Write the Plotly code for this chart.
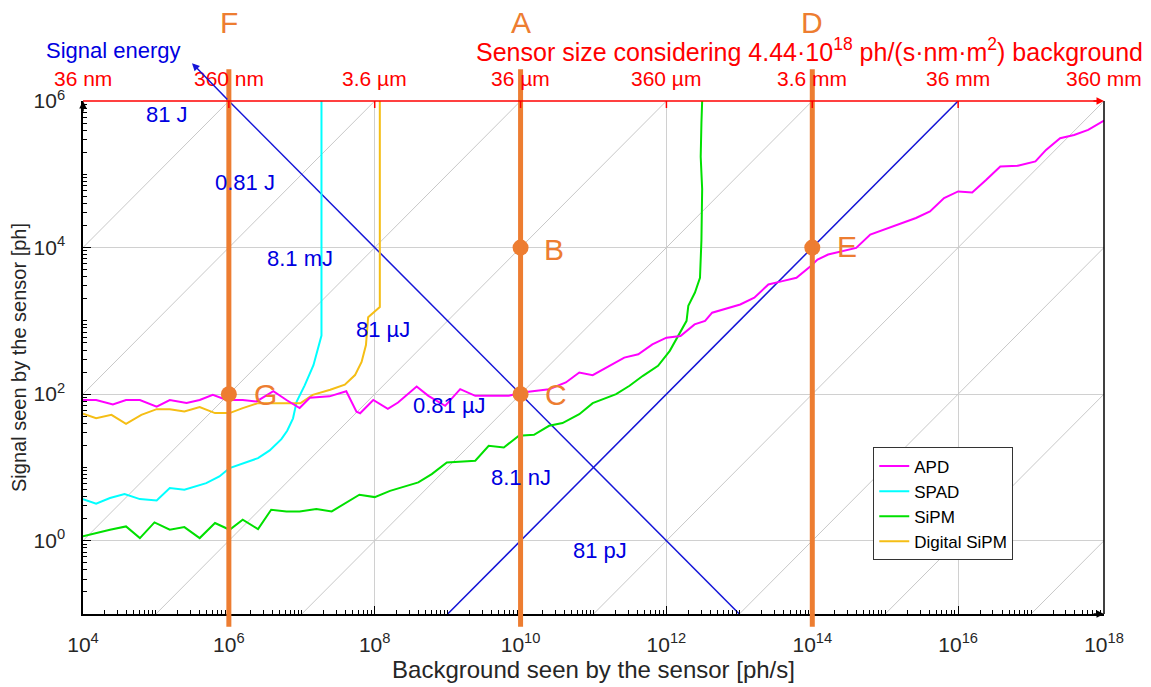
import plotly.graph_objects as go

# ---------------- data (log10 values) ----------------
apd_lx = [4.0, 4.18, 4.41, 4.59, 4.78, 5.01, 5.19, 5.42, 5.6, 5.78, 5.97, 6.19, 6.38, 6.61, 6.79, 6.97,
          7.11, 7.38, 7.61, 7.75, 7.8, 7.98, 8.18, 8.32, 8.575, 8.736, 8.966, 9.172, 9.379, 9.609, 9.839,
          10.023, 10.207, 10.391, 10.621, 10.805, 10.989, 11.218, 11.422, 11.614, 11.807, 12.0, 12.193,
          12.386, 12.53, 12.627, 12.867, 13.012, 13.205, 13.398, 13.59, 13.783, 13.976, 14.072, 14.217,
          14.41, 14.602, 14.795, 14.988, 15.229, 15.422, 15.614, 15.807, 16.0, 16.193, 16.386, 16.578,
          16.819, 17.06, 17.205, 17.398, 17.59, 17.783, 18.0]
apd_ly = [1.92, 1.92, 1.86, 1.92, 1.92, 1.83, 1.92, 1.88, 1.92, 1.99, 1.92, 1.92, 1.9, 2.04, 1.92, 1.81,
          1.95, 1.97, 2.04, 1.76, 1.74, 1.92, 1.80, 1.886, 2.105, 1.977, 1.841, 2.068, 1.977, 1.977, 1.977,
          2.023, 2.045, 2.068, 2.159, 2.295, 2.259, 2.386, 2.499, 2.544, 2.68, 2.771, 2.794,
          2.952, 2.998, 3.111, 3.179, 3.224, 3.315, 3.497, 3.542, 3.587, 3.746, 3.837, 3.905,
          3.95, 3.995, 4.177, 4.245, 4.336, 4.404, 4.494, 4.676, 4.766, 4.753, 4.925, 5.107,
          5.116, 5.175, 5.333, 5.492, 5.537, 5.605, 5.732]

spad_lx = [4.0, 4.18, 4.37, 4.57, 4.78, 5.01, 5.19, 5.39, 5.69, 5.87, 6.01, 6.19, 6.4, 6.56, 6.72, 6.8,
           6.88, 6.93, 7.04, 7.16, 7.27, 7.27]
spad_ly = [0.568, 0.505, 0.582, 0.636, 0.568, 0.55, 0.718, 0.695, 0.786, 0.877, 0.991, 1.05, 1.127, 1.232,
           1.386, 1.5, 1.67, 1.90, 2.12, 2.395, 2.80, 6.0]

sipm_lx = [4.0, 4.18, 4.37, 4.59, 4.78, 4.98, 5.19, 5.39, 5.6, 5.81, 6.01, 6.19, 6.4, 6.58, 6.79, 6.97,
           7.2, 7.41, 7.61, 7.79, 8.0, 8.21, 8.598, 8.782, 8.989, 9.379, 9.563, 9.77, 9.977, 10.184,
           10.391, 10.575, 10.805, 10.989, 11.31, 11.494, 11.678, 11.885, 12.046, 12.184, 12.276, 12.3,
           12.391, 12.46, 12.48, 12.49, 12.47, 12.48, 12.49]
sipm_ly = [0.059, 0.105, 0.15, 0.195, 0.036, 0.25, 0.15, 0.186, 0.036, 0.241, 0.15, 0.286, 0.159, 0.423,
           0.4, 0.4, 0.432, 0.4, 0.514, 0.627, 0.595, 0.68, 0.795, 0.909, 1.068, 1.091, 1.295, 1.273, 1.432,
           1.445, 1.568, 1.605, 1.727, 1.877, 2.0, 2.114, 2.25, 2.386, 2.591, 2.841, 3.0, 3.205,
           3.386, 3.587, 4.1, 4.8, 5.24, 5.7, 6.0]

dsipm_lx = [4.0, 4.18, 4.39, 4.59, 4.8, 5.01, 5.19, 5.39, 5.6, 5.81, 6.01, 6.19, 6.4, 6.61, 6.79, 6.98,
            7.15, 7.39, 7.59, 7.73, 7.82, 7.88, 7.91, 8.07, 8.07]
dsipm_ly = [1.732, 1.673, 1.718, 1.595, 1.718, 1.795, 1.795, 1.764, 1.823, 1.741, 1.741, 1.809, 1.877,
            1.877, 1.868, 1.875, 1.99, 2.06, 2.13, 2.26, 2.44, 2.67, 3.05, 3.19, 6.0]

series_names = ["APD", "SPAD", "SiPM", "Digital SiPM"]
series_colors = ["#FF00FF", "#00FFFF", "#00E000", "#F5BE15"]
draw_order = [1, 2, 3, 0]  # APD drawn last (on top)

# axes ranges (log10)
X_RANGE = [4, 18]
Y_RANGE = [-1, 6]

# grey guide lines y = x * 10^k
diag_k = [0, -2, -4, -6, -8, -10, -12, -14, -16, -18]

# signal-energy lines (log10 y = a + s*log10 x) and their x extent
energy_lines = [(12, -1, 6, 13), (-10, 1, 9, 16)]
energy_labels = ["81 J", "0.81 J", "8.1 mJ", "81 µJ", "0.81 µJ", "8.1 nJ", "81 pJ"]
energy_lab_x = [5.152, 6.221, 6.975, 8.113, 9.032, 10.006, 11.089]
energy_lab_y = [5.81, 4.887, 3.856, 2.879, 1.848, 0.857, -0.133]

# top sensor size axis
size_vals = [4, 6, 8, 10, 12, 14, 16, 18]
size_labels = ["36 nm", "360 nm", "3.6 µm", "36 µm", "360 µm", "3.6 mm", "36 mm", "360 mm"]

# operating points
vline_x = [6, 10, 14]
vline_labels = ["F", "A", "D"]
point_x = [10, 10, 14, 6]
point_y = [4, 2, 4, 2]
point_labels = ["B", "C", "E", "G"]
point_lab_x = [10.458, 10.485, 14.48, 6.50]
point_lab_y = [3.98, 2.0, 4.018, 2.0]

x_major = [4, 6, 8, 10, 12, 14, 16, 18]
y_major = [0, 2, 4, 6]

# ---------------- figure ----------------
BLUE = "#1515D8"
ORANGE = "#ED7D31"
GRID = "#D0D0D0"
TXT = "#262626"
FONT = "Liberation Sans, Arial, sans-serif"

fig = go.Figure()

for k in diag_k:
    lx0 = max(X_RANGE[0], Y_RANGE[0] - k)
    lx1 = min(X_RANGE[1], Y_RANGE[1] - k)
    if lx1 > lx0:
        fig.add_trace(go.Scatter(x=[10 ** lx0, 10 ** lx1], y=[10 ** (lx0 + k), 10 ** (lx1 + k)],
                                 mode="lines", line=dict(color="#C8C8C8", width=1),
                                 showlegend=False, hoverinfo="skip"))

for a, s, xa, xb in energy_lines:
    fig.add_trace(go.Scatter(x=[10 ** xa, 10 ** xb], y=[10 ** (a + s * xa), 10 ** (a + s * xb)],
                             mode="lines", line=dict(color=BLUE, width=1.5),
                             showlegend=False, hoverinfo="skip"))

all_lx = [apd_lx, spad_lx, sipm_lx, dsipm_lx]
all_ly = [apd_ly, spad_ly, sipm_ly, dsipm_ly]
for i in draw_order:
    fig.add_trace(go.Scatter(x=[10 ** v for v in all_lx[i]], y=[10 ** v for v in all_ly[i]],
                             mode="lines", name=series_names[i], legendrank=i + 1,
                             line=dict(color=series_colors[i], width=2)))

shapes = []
for vx in vline_x:
    shapes.append(dict(type="line", xref="x", yref="paper", x0=10 ** vx, x1=10 ** vx,
                       y0=-0.025, y1=1.062, line=dict(color=ORANGE, width=5)))
# red top axis line and ticks
shapes.append(dict(type="line", xref="paper", yref="paper", x0=0, x1=0.995, y0=1, y1=1,
                   line=dict(color="red", width=1.5)))
for sv in size_vals[1:-1]:
    shapes.append(dict(type="line", xref="x", yref="paper", x0=10 ** sv, x1=10 ** sv,
                       y0=1, y1=1 - 7 / 513, line=dict(color="red", width=1.5)))
# right frame
shapes.append(dict(type="line", xref="paper", yref="paper", x0=1, x1=1, y0=0, y1=1,
                   line=dict(color="black", width=1.5)))

fig.add_trace(go.Scatter(x=[10 ** v for v in point_x], y=[10 ** v for v in point_y], mode="markers",
                         marker=dict(color=ORANGE, size=16), showlegend=False, cliponaxis=False,
                         hoverinfo="skip"))

ann = []
for t, x, y in zip(energy_labels, energy_lab_x, energy_lab_y):
    ann.append(dict(x=x, y=y, xref="x", yref="y", text=t, showarrow=False,
                    xanchor="center", yanchor="middle",
                    font=dict(color="#0000E0", size=22, family=FONT)))
for t, x in zip(size_labels, size_vals):
    ann.append(dict(x=x, y=1.044, xref="x", yref="paper", text=t, showarrow=False,
                    xanchor="center", yanchor="middle",
                    font=dict(color="red", size=21, family=FONT)))
for t, x in zip(vline_labels, vline_x):
    ann.append(dict(x=x, y=1.1535, xref="x", yref="paper", text=t, showarrow=False,
                    xanchor="center", yanchor="middle",
                    font=dict(color=ORANGE, size=30, family=FONT)))
for t, x, y in zip(point_labels, point_lab_x, point_lab_y):
    ann.append(dict(x=x, y=y, xref="x", yref="y", text=t, showarrow=False,
                    xanchor="center", yanchor="middle",
                    font=dict(color=ORANGE, size=30, family=FONT)))
ann.append(dict(x=0.0294, y=1.0985, xref="paper", yref="paper", text="Signal energy",
                xanchor="center", yanchor="middle",
                showarrow=False, font=dict(color="#0000E0", size=22, family=FONT)))
ann.append(dict(x=1.040, y=1.0985, xref="paper", yref="paper", xanchor="right", yanchor="middle",
                text="Sensor size considering 4.44·10<sup>18</sup> ph/(s·nm·m<sup>2</sup>) background",
                showarrow=False, font=dict(color="red", size=25, family=FONT)))
# arrows
ann.append(dict(x=5.495, y=6.516, xref="x", yref="y", ax=6, ay=6, axref="x", ayref="y", text="",
                showarrow=True, arrowhead=2, arrowsize=1, arrowwidth=1.5, arrowcolor=BLUE))
ann.append(dict(x=1.0, y=1.0, xref="paper", yref="paper", ax=-12, ay=0, text="",
                showarrow=True, arrowhead=2, arrowsize=1, arrowwidth=1.5, arrowcolor="red"))
ann.append(dict(x=1.0, y=0.0, xref="paper", yref="paper", ax=-12, ay=0, text="",
                showarrow=True, arrowhead=2, arrowsize=1, arrowwidth=1.5, arrowcolor="black"))
ann.append(dict(x=0.0, y=1.0, xref="paper", yref="paper", ax=0, ay=12, text="",
                showarrow=True, arrowhead=2, arrowsize=1, arrowwidth=1.5, arrowcolor="black"))


def minor_vals(lo, hi):
    vals = []
    for d in range(lo, hi):
        for m in range(1, 10):
            if m == 1 and d % 2 == 0:
                continue
            vals.append(m * 10 ** d)
    return vals


fig.update_layout(
    width=1151, height=687,
    margin=dict(l=83, r=47, t=101, b=73),
    paper_bgcolor="white", plot_bgcolor="white",
    font=dict(family=FONT, color=TXT),
    shapes=shapes, annotations=ann,
    legend=dict(x=0.774, y=0.3246, xanchor="left", yanchor="top", bgcolor="white",
                bordercolor="#333333", borderwidth=1, font=dict(size=17, color="black", family=FONT),
                tracegroupgap=0, itemwidth=30),
    xaxis=dict(type="log", range=X_RANGE, tickmode="array",
               tickvals=[10 ** v for v in x_major],
               ticktext=["10<sup>%d</sup>" % v for v in x_major],
               showgrid=True, gridcolor=GRID, gridwidth=1, zeroline=False,
               showline=True, linecolor="black", linewidth=1.5, mirror=False,
               ticks="inside", ticklen=8, tickcolor="black", ticklabelstandoff=11,
               tickfont=dict(size=21, color=TXT),
               minor=dict(tickmode="array", tickvals=minor_vals(4, 18), ticks="inside",
                          ticklen=4, tickcolor="black", showgrid=False),
               title=dict(text="Background seen by the sensor [ph/s]", font=dict(size=24, color=TXT),
                          standoff=3)),
    yaxis=dict(type="log", range=Y_RANGE, tickmode="array",
               tickvals=[10 ** v for v in y_major],
               ticktext=["10<sup>%d</sup>" % v for v in y_major],
               showgrid=True, gridcolor=GRID, gridwidth=1, zeroline=False,
               showline=True, linecolor="black", linewidth=1.5, mirror=False,
               ticks="inside", ticklen=8, tickcolor="black", ticklabelstandoff=12,
               tickfont=dict(size=21, color=TXT),
               minor=dict(tickmode="array", tickvals=minor_vals(-1, 6), ticks="inside",
                          ticklen=4, tickcolor="black", showgrid=False),
               title=dict(text="Signal seen by the sensor [ph]", font=dict(size=20, color=TXT),
                          standoff=2)),
)

fig.write_html("out.html")
